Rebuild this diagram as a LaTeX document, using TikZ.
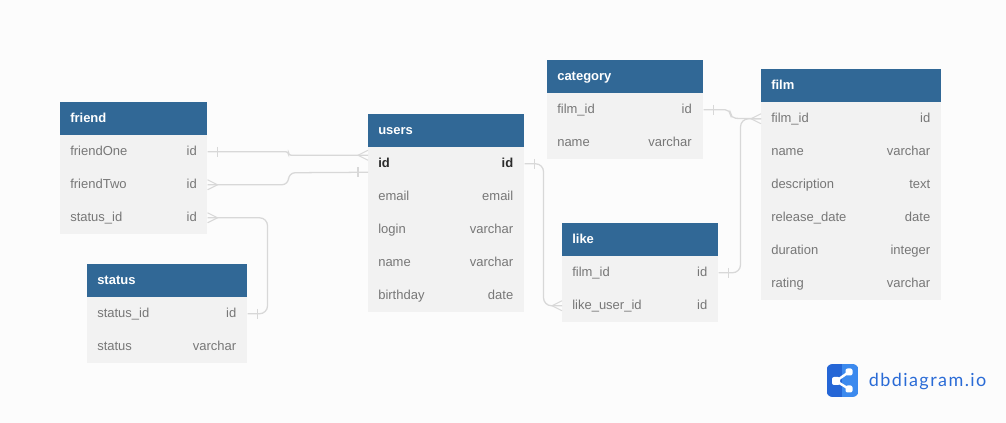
\documentclass[tikz,border=0pt]{standalone}
\usepackage{fontspec}
\setmainfont{Liberation Sans}
\newfontfamily\logofont[LetterSpace=8]{Lato}
\usetikzlibrary{calc}
\definecolor{pagebg}{HTML}{FCFCFC}
\definecolor{headblue}{HTML}{316896}
\definecolor{rowgrey}{HTML}{F2F2F2}
\definecolor{celltext}{HTML}{777777}
\definecolor{idtext}{HTML}{2B2B2B}
\definecolor{linkgrey}{HTML}{D8D8D8}
\definecolor{logoleft}{HTML}{2566D6}
\definecolor{logoright}{HTML}{3C8AEE}
\definecolor{logotext}{HTML}{2A6BD6}
\newcommand\plainrow{\relax}
\newcommand\keyrow{\bfseries\color{idtext}}
\tikzset{
  headbox/.style={fill=headblue,draw=none,inner sep=0pt,anchor=north west,minimum height=33*0.75pt},
  rowbox/.style={fill=rowgrey,draw=none,inner sep=0pt,anchor=north west,minimum height=33*0.75pt},
  titletext/.style={text=white,font=\bfseries\fontsize{9.75pt}{12pt}\selectfont,anchor=west,inner sep=0pt,text height=7.5pt,text depth=2pt},
  celltxt/.style={text=celltext,font=\fontsize{9.75pt}{12pt}\selectfont,inner sep=0pt,text height=7.5pt,text depth=2pt},
  link/.style={draw=linkgrey,line width=0.95pt,rounded corners=6pt},
  crowfoot/.pic={\draw[draw=linkgrey,line width=0.8pt] (0,-5) -- (-10,0) -- (0,5);},
  tickmark/.pic={\draw[draw=linkgrey,line width=0.8pt] (0,-5) -- (0,5);},
}
% #1 name, #2 x, #3 y, #4 width (px), #5 title, #6 rows l/r/fontcmd, #7 right padding
\newcommand\dbtable[7]{
  \node[headbox,minimum width=#4*0.75pt] (#1h) at (#2,#3) {};
  \node[titletext] (#1t) at ($(#1h.west)+(10,0)$) {#5};
  \foreach \l/\r/\f [count=\i] in {#6}{
    \node[rowbox,minimum width=#4*0.75pt] (#1\i) at ($(#2,#3)+(0,33*\i)$) {};
    \node[celltxt,anchor=west] (#1\i l) at ($(#1\i.west)+(10,0)$) {\f \l};
    \node[celltxt,anchor=east] (#1\i r) at ($(#1\i.east)+(-#7,0)$) {\f \r};
  }
}
\begin{document}
\begin{tikzpicture}[x=0.75pt,y=-0.75pt]
\useasboundingbox[fill=pagebg] (0,0) rectangle (1006,423);

\dbtable{friend}{60}{102}{147}{friend}{friendOne/id/\plainrow,friendTwo/id/\plainrow,status\_id/id/\plainrow}{10.5}
\dbtable{users}{368}{114}{156}{users}{id/id/\keyrow,email/email/\plainrow,login/varchar/\plainrow,name/varchar/\plainrow,birthday/date/\plainrow}{11}
\dbtable{category}{547}{60}{156}{category}{film\_id/id/\plainrow,name/varchar/\plainrow}{11.5}
\dbtable{film}{761}{69}{180}{film}{film\_id/id/\plainrow,name/varchar/\plainrow,description/text/\plainrow,release\_date/date/\plainrow,duration/integer/\plainrow,rating/varchar/\plainrow}{11}
\dbtable{like}{562}{223}{156}{like}{film\_id/id/\plainrow,like\_user\_id/id/\plainrow}{11}
\dbtable{status}{87}{264}{160}{status}{status\_id/id/\plainrow,status/varchar/\plainrow}{11}

% connectors
\draw[link,rounded corners=2pt] (friend1.east) -- ++(81,0) -- ++(0,3.5) -- ($(users1.west)+(0,-8.5)$);
\path (friend1.east) ++(10,0) pic {tickmark};
\path ($(users1.west)+(0,-8.5)$) pic {crowfoot};

\draw[link,rounded corners=5pt] (friend2.east) -- ++(81,0) -- ++(0,-12) -- ($(users1.west)+(0,8.5)$);
\path (friend2.east) pic[xscale=-1] {crowfoot};
\path ($(users1.west)+(-10,8.5)$) pic {tickmark};

\draw[link] (friend3.east) -- ++(60,0) |- (status1.east);
\path (friend3.east) pic[xscale=-1] {crowfoot};
\path (status1.east) ++(10,0) pic {tickmark};

\draw[link] (users1.east) -- ++(19,0) |- (like2.west);
\path (users1.east) ++(10,0) pic {tickmark};
\path (like2.west) pic {crowfoot};

\draw[link,rounded corners=4pt] (category1.east) -- ++(27,0) -- ++(0,8.5) -- (film1.west);
\path (category1.east) ++(10,0) pic {tickmark};
\path (film1.west) pic {crowfoot};

\draw[link] (like1.east) -- ++(22,0) |- (film1.west);
\path (like1.east) ++(10,0) pic {tickmark};

% logo
\begin{scope}
  \clip[rounded corners=4.5pt] (826.5,364) rectangle (858.5,397);
  \fill[logoleft] (826.5,364) rectangle (842,397);
  \fill[logoright] (842,364) rectangle (858.5,397);
\end{scope}
\draw[white,line width=1.8pt] (849,372) -- (836,381) -- (849,389);
\fill[white,rounded corners=1.5pt] (832,377) rectangle (840,385) (845.5,368.5) rectangle (852.5,375.5) (845.5,385.5) rectangle (852.5,392.5);
\node[anchor=base west,inner sep=0pt,text=logotext,font=\logofont\fontsize{13.5pt}{16pt}\selectfont] (logo) at (868.5,387) {dbdiagram.io};
\end{tikzpicture}
\end{document}
